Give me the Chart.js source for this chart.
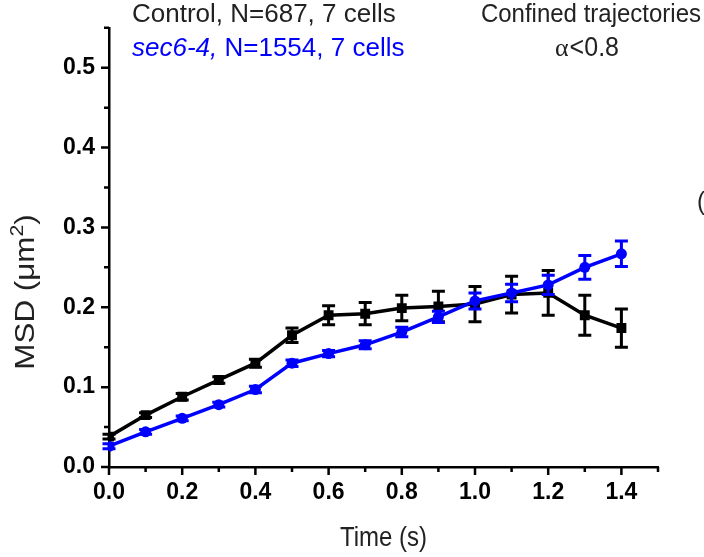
<!DOCTYPE html>
<html>
<head>
<meta charset="utf-8">
<script src="https://cdn.jsdelivr.net/npm/chart.js@4.4.1/dist/chart.umd.min.js"></script>
<style>
  html, body { margin: 0; padding: 0; background: #fff; }
  #wrap { width: 704px; height: 557px; position: relative; }
</style>
</head>
<body>
<div id="wrap"><canvas id="c" width="704" height="557"></canvas></div>
<script>
// ---- data ----
const times = [0, 0.1, 0.2, 0.3, 0.4, 0.5, 0.6, 0.7, 0.8, 0.9, 1.0, 1.1, 1.2, 1.3, 1.4];
const controlMSD = [0.038, 0.065, 0.088, 0.109, 0.130, 0.165, 0.190, 0.192, 0.199, 0.201, 0.204, 0.216, 0.218, 0.190, 0.174];
const controlErr = [0.003, 0.003, 0.004, 0.004, 0.005, 0.009, 0.012, 0.014, 0.016, 0.019, 0.022, 0.023, 0.028, 0.025, 0.024];
const sec6MSD = [0.026, 0.044, 0.061, 0.078, 0.097, 0.130, 0.142, 0.153, 0.169, 0.188, 0.208, 0.218, 0.228, 0.250, 0.267];
const sec6Err = [0.003, 0.003, 0.003, 0.003, 0.004, 0.004, 0.004, 0.005, 0.006, 0.007, 0.010, 0.011, 0.012, 0.015, 0.016];
const xMajorTicks = [0, 0.2, 0.4, 0.6, 0.8, 1.0, 1.2, 1.4];
const xMajorLabels = ['0.0', '0.2', '0.4', '0.6', '0.8', '1.0', '1.2', '1.4'];
const xMinorTicks = [0.1, 0.3, 0.5, 0.7, 0.9, 1.1, 1.3, 1.5];
const yMajorTicks = [0, 0.1, 0.2, 0.3, 0.4, 0.5];
const yMajorLabels = ['0.0', '0.1', '0.2', '0.3', '0.4', '0.5'];
const yMinorTicks = [0.05, 0.15, 0.25, 0.35, 0.45, 0.55];
const seriesNames = ['Control, N=687, 7 cells', 'sec6-4,', ' N=1554, 7 cells'];
const titleRight = ['Confined trajectories', 'α', '<0.8'];
const xTitle = 'Time (s)';
const yTitle = ['MSD (\u03bcm', '2', ')'];

const SANS = '"Liberation Sans", Arial, sans-serif';

const errMap = { 'control': controlErr, 'sec6': sec6Err };

const errorBarPlugin = {
  id: 'errorBars',
  afterDatasetDraw(chart, args) {
    const ds = chart.data.datasets[args.index];
    const errs = errMap[ds.key];
    if (!errs) return;
    const xs = chart.scales.x, ys = chart.scales.y;
    const ctx = chart.ctx;
    ctx.save();
    ctx.strokeStyle = ds.borderColor;
    ctx.lineWidth = 3;
    ds.data.forEach((p, i) => {
      const x = xs.getPixelForValue(p.x);
      const yt = ys.getPixelForValue(p.y + errs[i]);
      const yb = ys.getPixelForValue(p.y - errs[i]);
      ctx.beginPath();
      ctx.moveTo(x, yt); ctx.lineTo(x, yb);
      ctx.moveTo(x - 6.5, yt); ctx.lineTo(x + 6.5, yt);
      ctx.moveTo(x - 6.5, yb); ctx.lineTo(x + 6.5, yb);
      ctx.stroke();
    });
    ctx.restore();
  }
};

function sText(ctx, str, x, y, font, color, align, stretch) {
  ctx.save();
  ctx.font = font;
  ctx.fillStyle = color;
  ctx.textAlign = align || 'left';
  ctx.textBaseline = 'alphabetic';
  ctx.translate(x, y);
  ctx.scale(1, stretch || 1);
  ctx.fillText(str, 0, 0);
  ctx.restore();
}

const decoPlugin = {
  id: 'deco',
  afterDraw(chart) {
    const ctx = chart.ctx;
    const xs = chart.scales.x, ys = chart.scales.y;
    const ca = chart.chartArea;
    ctx.save();
    // tick marks
    ctx.strokeStyle = '#000';
    ctx.lineWidth = 2.5;
    ctx.beginPath();
    xMajorTicks.forEach(v => { const x = xs.getPixelForValue(v); ctx.moveTo(x, ca.bottom); ctx.lineTo(x, ca.bottom + 8); });
    xMinorTicks.forEach(v => { const x = xs.getPixelForValue(v); ctx.moveTo(x, ca.bottom); ctx.lineTo(x, ca.bottom + 5); });
    yMajorTicks.forEach(v => { const y = ys.getPixelForValue(v); ctx.moveTo(ca.left, y); ctx.lineTo(ca.left - 8, y); });
    yMinorTicks.forEach(v => { const y = ys.getPixelForValue(v); ctx.moveTo(ca.left, y); ctx.lineTo(ca.left - 5, y); });
    ctx.stroke();
    ctx.restore();

    // header texts
    const f26 = '26px ' + SANS;
    sText(ctx, seriesNames[0], 132, 22, f26, '#222');
    ctx.font = 'italic 26px ' + SANS;
    const w = ctx.measureText(seriesNames[1]).width;
    sText(ctx, seriesNames[1], 132, 56, 'italic 26px ' + SANS, '#0000ff');
    sText(ctx, seriesNames[2], 132 + w, 56, f26, '#0000ff');

    sText(ctx, titleRight[0], 701, 22, '24px ' + SANS, '#222', 'right', 1.1);
    const fa = '26px "Liberation Serif", serif';
    ctx.font = fa;
    const wa = ctx.measureText(titleRight[1]).width;
    sText(ctx, titleRight[1], 555, 56, fa, '#222');
    sText(ctx, titleRight[2], 555 + wa + 1, 56, '25px ' + SANS, '#222', 'left', 1.08);

    // clipped fragment at right edge
    sText(ctx, '(', 697, 210, '24px ' + SANS, '#222', 'left', 1.1);

    // x title
    sText(ctx, xTitle, (ca.left + ca.right) / 2, 546, '24px ' + SANS, '#222', 'center', 1.15);

    // y title (rotated, stretched along its length)
    ctx.save();
    ctx.fillStyle = '#222';
    ctx.translate(34, 292);
    ctx.rotate(-Math.PI / 2);
    ctx.scale(1.12, 1);
    const parts = [[yTitle[0], 28, 0], [yTitle[1], 19, -11], [yTitle[2], 28, 0]];
    let total = 0;
    parts.forEach(p => { ctx.font = p[1] + 'px ' + SANS; total += ctx.measureText(p[0]).width; });
    let px = -total / 2;
    ctx.textAlign = 'left';
    ctx.textBaseline = 'alphabetic';
    parts.forEach(p => { ctx.font = p[1] + 'px ' + SANS; ctx.fillText(p[0], px, p[2]); px += ctx.measureText(p[0]).width; });
    ctx.restore();
  }
};

new Chart(document.getElementById('c'), {
  type: 'line',
  data: {
    datasets: [
      {
        key: 'sec6',
        label: 'sec6-4',
        data: times.map((t, i) => ({ x: t, y: sec6MSD[i] })),
        borderColor: '#0000ff',
        backgroundColor: '#0000ff',
        borderWidth: 3.5,
        pointStyle: 'circle',
        pointRadius: 5.5,
        pointBorderWidth: 0,
        order: 0
      },
      {
        key: 'control',
        label: 'Control',
        data: times.map((t, i) => ({ x: t, y: controlMSD[i] })),
        borderColor: '#000000',
        backgroundColor: '#000000',
        borderWidth: 3.5,
        pointStyle: 'rect',
        pointRadius: 7,
        pointBorderWidth: 0,
        order: 1
      }
    ]
  },
  options: {
    responsive: false,
    animation: false,
    layout: { padding: { left: 0, top: 25, right: 46, bottom: 0 } },
    plugins: { legend: { display: false }, tooltip: { enabled: false } },
    scales: {
      x: {
        type: 'linear',
        min: 0, max: 1.5,
        afterBuildTicks(s) { s.ticks = xMajorTicks.map(v => ({ value: v })); },
        afterFit(s) { s.height = 90; },
        grid: { display: true, drawOnChartArea: false, drawTicks: false },
        border: { display: true, color: '#000', width: 2.5 },
        ticks: {
          padding: 12,
          color: '#000',
          font: { family: SANS, size: 23, weight: 'bold' },
          maxRotation: 0,
          callback(v) { const i = xMajorTicks.findIndex(t => Math.abs(t - v) < 1e-9); return i >= 0 ? xMajorLabels[i] : ''; }
        }
      },
      y: {
        type: 'linear',
        min: 0, max: 0.55,
        afterBuildTicks(s) { s.ticks = yMajorTicks.map(v => ({ value: v })); },
        afterFit(s) { s.width = 109; },
        grid: { display: true, drawOnChartArea: false, drawTicks: false },
        border: { display: true, color: '#000', width: 2.5 },
        ticks: {
          padding: 14,
          color: '#000',
          font: { family: SANS, size: 23, weight: 'bold' },
          callback(v) { const i = yMajorTicks.findIndex(t => Math.abs(t - v) < 1e-9); return i >= 0 ? yMajorLabels[i] : ''; }
        }
      }
    }
  },
  plugins: [errorBarPlugin, decoPlugin]
});
</script>
</body>
</html>
